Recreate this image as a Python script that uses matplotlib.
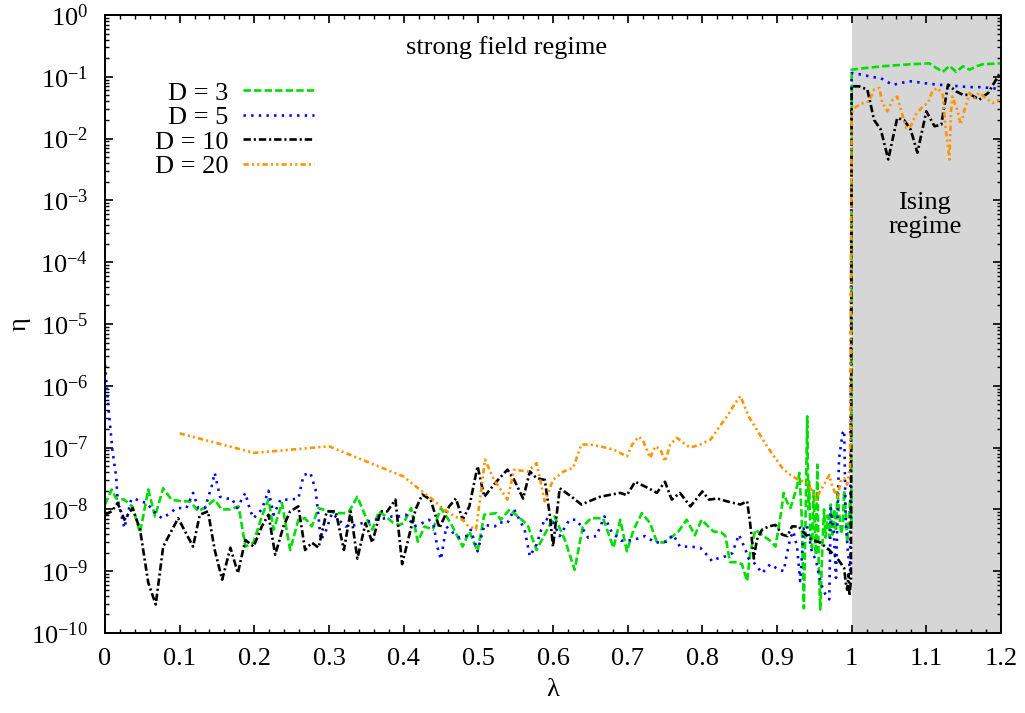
#!/usr/bin/env python3

# ==========================================
# eta vs lambda for several bond dimensions
# ==========================================

import matplotlib

matplotlib.use("Agg")
import matplotlib.pyplot as plt
from matplotlib.ticker import MultipleLocator, LogLocator, NullFormatter

params = {
    "font.family": "serif",
    "font.serif": ["Liberation Serif", "DejaVu Serif"],
    "mathtext.fontset": "custom",
    "mathtext.rm": "Liberation Serif",
    "mathtext.it": "Liberation Serif:italic",
    "font.size": 19,
    "axes.linewidth": 1.4,
    "xtick.direction": "in",
    "ytick.direction": "in",
    "xtick.top": True,
    "ytick.right": True,
    "xtick.major.size": 5.5,
    "ytick.major.size": 5.5,
    "xtick.minor.size": 2.8,
    "ytick.minor.size": 2.8,
    "xtick.major.width": 1.2,
    "ytick.major.width": 1.2,
    "xtick.minor.width": 1.0,
    "ytick.minor.width": 1.0,
    "xtick.major.pad": 11,
    "ytick.major.pad": 12,
}
plt.rcParams.update(params)

# ---- data ----
lam_D3 = [0.0, 0.009, 0.015, 0.026, 0.037, 0.047, 0.058, 0.067, 0.078, 0.089,
          0.103, 0.114, 0.125, 0.136, 0.147, 0.156, 0.168, 0.179, 0.188, 0.199,
          0.21, 0.219, 0.226, 0.237, 0.248, 0.259, 0.268, 0.277, 0.286, 0.30,
          0.309, 0.32, 0.327, 0.338, 0.349, 0.358, 0.367, 0.376, 0.385, 0.394,
          0.4, 0.41, 0.419, 0.428, 0.439, 0.45, 0.463, 0.479, 0.488, 0.499,
          0.508, 0.524, 0.53, 0.542, 0.553, 0.566, 0.578, 0.591, 0.602, 0.616,
          0.629, 0.64, 0.651, 0.667, 0.681, 0.69, 0.699, 0.708, 0.719, 0.73,
          0.739, 0.748, 0.759, 0.768, 0.779, 0.79, 0.799, 0.808, 0.815, 0.826,
          0.831, 0.837, 0.846, 0.853, 0.86, 0.864, 0.871, 0.882, 0.891, 0.898,
          0.905, 0.909, 0.913, 0.918, 0.922, 0.927, 0.930, 0.933, 0.936, 0.938,
          0.9405, 0.942, 0.943, 0.945, 0.947, 0.949, 0.952, 0.954, 0.956, 0.958,
          0.961, 0.963, 0.965, 0.968, 0.97, 0.972, 0.974, 0.977, 0.979, 0.981,
          0.983, 0.986, 0.988, 0.99, 0.992, 0.994, 0.996, 0.998, 0.9995,
          1.0, 1.01, 1.023, 1.041, 1.064, 1.082, 1.104, 1.113, 1.122, 1.131,
          1.14, 1.149, 1.158, 1.167, 1.176, 1.2]
eta_D3 = [1.2e-8, 2.1e-8, 1.5e-8, 1.44e-8, 1.1e-8, 4.2e-9, 2.1e-8, 7.7e-9, 2.2e-8, 1.44e-8,
          1.35e-8, 1.35e-8, 9.3e-9, 1.12e-8, 1.44e-8, 1.0e-8, 1.0e-8, 1.12e-8, 2.5e-9, 2.9e-9,
          7.7e-9, 1.44e-8, 4.7e-9, 1.27e-8, 2.2e-9, 6.8e-9, 7.2e-9, 5.3e-9, 1.05e-8, 9.3e-9,
          8.7e-9, 8.7e-9, 9.3e-9, 1.6e-8, 7.7e-9, 4.7e-9, 9.3e-9, 7.7e-9, 6.2e-9, 5.6e-9,
          6e-9, 1.05e-8, 3e-9, 5.3e-9, 4.7e-9, 1.05e-8, 6e-9, 2.5e-9, 4.4e-9, 2.1e-9,
          8.2e-9, 8.7e-9, 6.8e-9, 1e-8, 7.7e-9, 5.6e-9, 2.2e-9, 4.4e-9, 7.7e-9, 3.2e-9,
          1.05e-9, 5.3e-9, 7.2e-9, 7.2e-9, 2.4e-9, 6.8e-9, 2.1e-9, 4.7e-9, 8.7e-9, 6e-9,
          3e-9, 2.9e-9, 3.6e-9, 4.4e-9, 6.8e-9, 3.8e-9, 6.8e-9, 5.3e-9, 4.4e-9, 4.2e-9,
          3.7e-9, 1.4e-9, 1.4e-9, 1.3e-9, 6.9e-10, 1.95e-9, 4.7e-9, 3.7e-9, 3.1e-9, 2.5e-9,
          8.2e-9, 1.85e-8, 1.35e-8, 1.05e-8, 1.5e-8, 2.4e-8, 3.9e-8, 8e-9, 2.5e-10, 5e-9,
          3.2e-7, 1e-8, 2.8e-8, 3e-9, 2.4e-9, 2e-8, 1.85e-9, 5.3e-8, 1e-9, 2.4e-10,
          3e-9, 1e-8, 3.5e-9, 8e-9, 3.5e-9, 1.2e-8, 3.9e-9, 1e-8, 4.4e-9, 2e-8,
          9.3e-9, 4e-9, 5.6e-9, 2e-8, 9.3e-9, 3e-9, 5.6e-9, 1.5e-8, 5e-9,
          0.13, 0.135, 0.14, 0.148, 0.155, 0.16, 0.165, 0.14, 0.12, 0.15,
          0.12, 0.148, 0.13, 0.148, 0.16, 0.165]

lam_D5 = [0.0, 0.005, 0.01, 0.015, 0.017, 0.026, 0.035, 0.04, 0.047, 0.056,
          0.065, 0.069, 0.076, 0.082, 0.096, 0.109, 0.118, 0.125, 0.134, 0.143,
          0.147, 0.154, 0.163, 0.17, 0.177, 0.188, 0.194, 0.199, 0.21, 0.219,
          0.226, 0.235, 0.248, 0.259, 0.266, 0.275, 0.282, 0.286, 0.289, 0.295,
          0.304, 0.322, 0.336, 0.349, 0.362, 0.376, 0.385, 0.394, 0.403, 0.414,
          0.425, 0.434, 0.44, 0.445, 0.45, 0.457, 0.466, 0.475, 0.484, 0.49,
          0.499, 0.508, 0.522, 0.528, 0.539, 0.548, 0.562, 0.569, 0.578, 0.589,
          0.6, 0.609, 0.622, 0.631, 0.638, 0.647, 0.658, 0.669, 0.679, 0.692,
          0.708, 0.723, 0.737, 0.752, 0.761, 0.77, 0.784, 0.797, 0.808, 0.813,
          0.82, 0.831, 0.84, 0.849, 0.858, 0.862, 0.871, 0.88, 0.891, 0.9,
          0.909, 0.913, 0.918, 0.922, 0.927, 0.931, 0.936, 0.94, 0.947, 0.952,
          0.956, 0.961, 0.965, 0.97, 0.972, 0.976, 0.979, 0.983, 0.988, 0.99,
          0.992, 0.995, 0.998,
          1.0, 1.014, 1.028, 1.039, 1.046, 1.055, 1.066, 1.077, 1.091, 1.104,
          1.117, 1.131, 1.144, 1.158, 1.171, 1.185, 1.2]
eta_D5 = [2.2e-6, 4e-7, 9e-8, 3.4e-8, 1.44e-8, 5e-9, 1.44e-8, 1.5e-8, 1.35e-8, 1.27e-8,
          9.3e-9, 8.7e-9, 7.2e-9, 7.9e-9, 1.05e-8, 1.05e-8, 1.85e-8, 1.05e-8, 1.05e-8, 2.4e-8,
          3.9e-8, 1.6e-8, 1.5e-8, 1.5e-8, 1.05e-8, 1.85e-8, 1e-8, 7.2e-9, 1e-8, 2e-8,
          8.2e-9, 1.44e-8, 1.44e-8, 1.5e-8, 3.6e-8, 3.9e-8, 2.1e-8, 7.7e-9, 3.2e-9, 4.2e-9,
          8.7e-9, 5.3e-9, 5.6e-9, 6.2e-9, 6.8e-9, 7.2e-9, 7.7e-9, 7.7e-9, 8.2e-9, 5.3e-9,
          6e-9, 6.8e-9, 5.6e-9, 2.5e-9, 1.55e-9, 5.3e-9, 4.2e-9, 3.5e-9, 3.7e-9, 4.7e-9,
          2.1e-9, 5.6e-9, 5.3e-9, 6.2e-9, 6e-9, 1e-8, 4.7e-9, 1.74e-9, 2.7e-9, 7.2e-9,
          6.2e-9, 3.7e-9, 6.8e-9, 6.8e-9, 5.3e-9, 3.5e-9, 3.7e-9, 7.7e-9, 4.2e-9, 3.1e-9,
          3.2e-9, 3.7e-9, 2.9e-9, 3e-9, 3.9e-9, 2.5e-9, 2.5e-9, 2.4e-9, 1.74e-9, 1.45e-9,
          1.6e-9, 1.74e-9, 1.95e-9, 3.9e-9, 2.2e-9, 1.6e-9, 1.3e-9, 9.3e-10, 1.3e-9, 1.1e-9,
          1e-9, 1.85e-9, 3.5e-9, 4.4e-9, 2.4e-9, 6.9e-10, 5e-9, 5.6e-9, 1.95e-9, 1.55e-9,
          8.8e-10, 5.3e-10, 4.2e-10, 3.5e-10, 1.05e-8, 4.4e-9, 7.8e-10, 6.5e-8, 1.74e-7, 1.9e-7,
          6.2e-9, 2e-9, 1e-9,
          0.115, 0.108, 0.099, 0.095, 0.085, 0.074, 0.079, 0.085, 0.081, 0.077,
          0.074, 0.073, 0.07, 0.068, 0.068, 0.066, 0.063]

lam_D10 = [0.0, 0.009, 0.017, 0.026, 0.037, 0.047, 0.058, 0.068, 0.078, 0.098,
           0.118, 0.127, 0.138, 0.147, 0.157, 0.168, 0.178, 0.188, 0.199, 0.21,
           0.219, 0.228, 0.239, 0.248, 0.259, 0.268, 0.277, 0.286, 0.297, 0.309,
           0.32, 0.329, 0.338, 0.349, 0.358, 0.369, 0.378, 0.389, 0.398, 0.416,
           0.425, 0.436, 0.448, 0.461, 0.47, 0.479, 0.488, 0.499, 0.508, 0.524,
           0.539, 0.548, 0.56, 0.569, 0.578, 0.589, 0.596, 0.6, 0.609, 0.625,
           0.638, 0.663, 0.69, 0.699, 0.71, 0.728, 0.739, 0.75, 0.759, 0.77,
           0.784, 0.8, 0.809, 0.82, 0.833, 0.851, 0.86, 0.864, 0.869, 0.873,
           0.88, 0.889, 0.898, 0.907, 0.914, 0.92, 0.929, 0.936, 0.947, 0.958,
           0.97, 0.981, 0.99, 0.992, 0.994, 0.996, 0.997, 0.999,
           1.0, 1.01, 1.021, 1.03, 1.039, 1.049, 1.061, 1.07, 1.079, 1.088,
           1.1, 1.111, 1.12, 1.129, 1.14, 1.149, 1.16, 1.171, 1.183, 1.192, 1.2]
eta_D10 = [8.2e-9, 9.3e-9, 1.27e-8, 6.8e-9, 1.05e-8, 4.7e-9, 6.5e-10, 2.9e-10, 2.5e-9, 7.2e-9,
           2.5e-9, 8.2e-9, 9.3e-9, 2.2e-9, 7.3e-10, 2.4e-9, 9.3e-10, 3.2e-9, 2.5e-9, 5.3e-9,
           8.2e-9, 1.85e-9, 5.3e-9, 9.3e-9, 1.12e-8, 2.2e-9, 2.9e-9, 2.4e-9, 9.3e-9, 9.3e-9,
           2.2e-9, 9.3e-9, 1.6e-9, 6e-9, 2.9e-9, 9.3e-9, 9.3e-9, 1.44e-8, 1.3e-9, 1e-8,
           1.74e-8, 1.44e-8, 5e-9, 1.12e-8, 1.5e-8, 6.8e-9, 1.12e-8, 5e-8, 1.6e-8, 2.8e-8,
           4.4e-8, 3.0e-8, 1.5e-8, 4.1e-8, 3.2e-8, 3.0e-8, 7.7e-9, 2.5e-9, 2.2e-8, 1.6e-8,
           1.2e-8, 1.6e-8, 1.85e-8, 1.7e-8, 2.8e-8, 2.2e-8, 1.85e-8, 2.8e-8, 1.44e-8, 1.85e-8,
           1.12e-8, 1.95e-8, 1.44e-8, 1.5e-8, 1.35e-8, 1.2e-8, 1.35e-8, 6e-9, 1.6e-9, 3.2e-9,
           4.7e-9, 5.3e-9, 5.6e-9, 3.9e-9, 3.7e-9, 5.3e-9, 5.3e-9, 4.2e-9, 3.2e-9, 2.9e-9,
           2.2e-9, 1.6e-9, 1.12e-9, 6.5e-10, 5e-10, 9e-10, 4e-10, 7e-10,
           0.07, 0.07, 0.062, 0.02, 0.014, 0.0046, 0.0215, 0.02, 0.014, 0.0059,
           0.0276, 0.0158, 0.0168, 0.0745, 0.058, 0.051, 0.051, 0.0427, 0.055, 0.0845, 0.123]

lam_D20 = [0.1, 0.2, 0.3, 0.4, 0.41, 0.425, 0.439, 0.452, 0.468, 0.479,
           0.485, 0.497, 0.509, 0.521, 0.539, 0.548, 0.566, 0.578, 0.589, 0.6,
           0.614, 0.627, 0.638, 0.649, 0.663, 0.681, 0.699, 0.706, 0.715, 0.721,
           0.73, 0.737, 0.744, 0.75, 0.757, 0.766, 0.775, 0.784, 0.797, 0.811,
           0.822, 0.833, 0.844, 0.851, 0.862, 0.873, 0.884, 0.896, 0.907, 0.918,
           0.929, 0.94, 0.947, 0.952, 0.958, 0.965, 0.97, 0.974, 0.981, 0.985,
           0.99, 0.994, 0.998,
           1.0, 1.003, 1.01, 1.016, 1.023, 1.03, 1.037, 1.041, 1.048, 1.055,
           1.061, 1.066, 1.073, 1.079, 1.086, 1.095, 1.102, 1.108, 1.115, 1.122,
           1.126, 1.131, 1.133, 1.135, 1.142, 1.146, 1.151, 1.158, 1.164, 1.171,
           1.18, 1.189, 1.198]
eta_D20 = [1.7e-7, 8.2e-8, 1.05e-7, 3.4e-8, 2.7e-8, 1.95e-8, 1.44e-8, 1.05e-8, 7.7e-9, 6.8e-9,
           5.6e-9, 4.7e-9, 6.4e-8, 3.0e-8, 1.44e-8, 4.4e-8, 4.1e-8, 5.6e-8, 1.35e-8, 3.0e-8,
           4.1e-8, 4.7e-8, 1.12e-7, 1.12e-7, 1.05e-7, 9.3e-8, 7.2e-8, 1.12e-7, 1.5e-7, 1.26e-7,
           6.8e-8, 1.05e-7, 9.3e-8, 6e-8, 1.12e-7, 1.44e-7, 1.18e-7, 1e-7, 1.12e-7, 1.35e-7,
           2.1e-7, 3.2e-7, 5.2e-7, 6.8e-7, 3.2e-7, 1.95e-7, 1.18e-7, 7.2e-8, 4.7e-8, 3.6e-8,
           3.0e-8, 2.7e-8, 2e-8, 1.44e-8, 2e-8, 2.8e-8, 3.6e-8, 2.4e-8, 1.5e-8, 2.8e-8,
           3.2e-8, 2.5e-8, 5e-8,
           0.026, 0.031, 0.035, 0.0377, 0.040, 0.062, 0.066, 0.0377, 0.0276, 0.0427,
           0.048, 0.029, 0.0148, 0.0158, 0.0245, 0.033, 0.0377, 0.058, 0.066, 0.051,
           0.014, 0.0046, 0.0276, 0.048, 0.0276, 0.0168, 0.029, 0.055, 0.045, 0.055,
           0.045, 0.0377, 0.0427]

labels = ["D = 3", "D = 5", "D = 10", "D = 20"]


def main():
    fig = plt.figure(figsize=(10.25, 7.13), dpi=100)
    ax = fig.add_axes([0.1024, 0.1122, 0.8742, 0.8668])

    # Ising region shading
    ax.axvspan(1.0, 1.2, color="#d6d6d6", lw=0, zorder=0)

    lw = 1.9
    ax.plot(lam_D3, eta_D3, color="#00dd00", lw=lw, dashes=(2.8, 1.2),
            label=labels[0])
    ax.plot(lam_D5, eta_D5, color="#0000ff", lw=lw, dashes=(0.9, 2.0),
            label=labels[1])
    ax.plot(lam_D10, eta_D10, color="black", lw=lw,
            dashes=(2.8, 1.1, 0.8, 1.1), label=labels[2])
    ax.plot(lam_D20, eta_D20, color="#ff9400", lw=lw,
            dashes=(2.0, 1.2, 0.8, 1.2, 0.8, 1.2), label=labels[3])

    ax.set_yscale("log")
    ax.set_xlim(0.0, 1.2)
    ax.set_ylim(1e-10, 1.0)

    ax.xaxis.set_major_locator(MultipleLocator(0.1))
    ax.xaxis.set_minor_locator(MultipleLocator(0.02))
    ax.xaxis.set_major_formatter(
        matplotlib.ticker.FuncFormatter(lambda v, p: "{:g}".format(round(v, 2))))
    ax.yaxis.set_major_locator(LogLocator(base=10, numticks=20))
    ax.yaxis.set_minor_locator(LogLocator(base=10, subs=range(2, 10), numticks=20))
    ax.yaxis.set_minor_formatter(NullFormatter())

    ax.set_xlabel("λ", labelpad=6)
    ax.set_ylabel("η")
    ax.yaxis.set_label_coords(-0.083, 0.5)

    leg = ax.legend(loc="upper left", bbox_to_anchor=(0.056, 0.893),
                    markerfirst=False, frameon=False, handlelength=2.7,
                    handletextpad=0.55, labelspacing=0.04, borderpad=0,
                    borderaxespad=0)

    ax.text(0.5375, 0.30, "strong field regime", ha="center", va="center")
    ax.text(1.098, 5.8e-4, "Ising\nregime", ha="center", va="center",
            linespacing=1.1)

    plt.savefig("out.png", dpi=100)


if __name__ == "__main__":
    main()
